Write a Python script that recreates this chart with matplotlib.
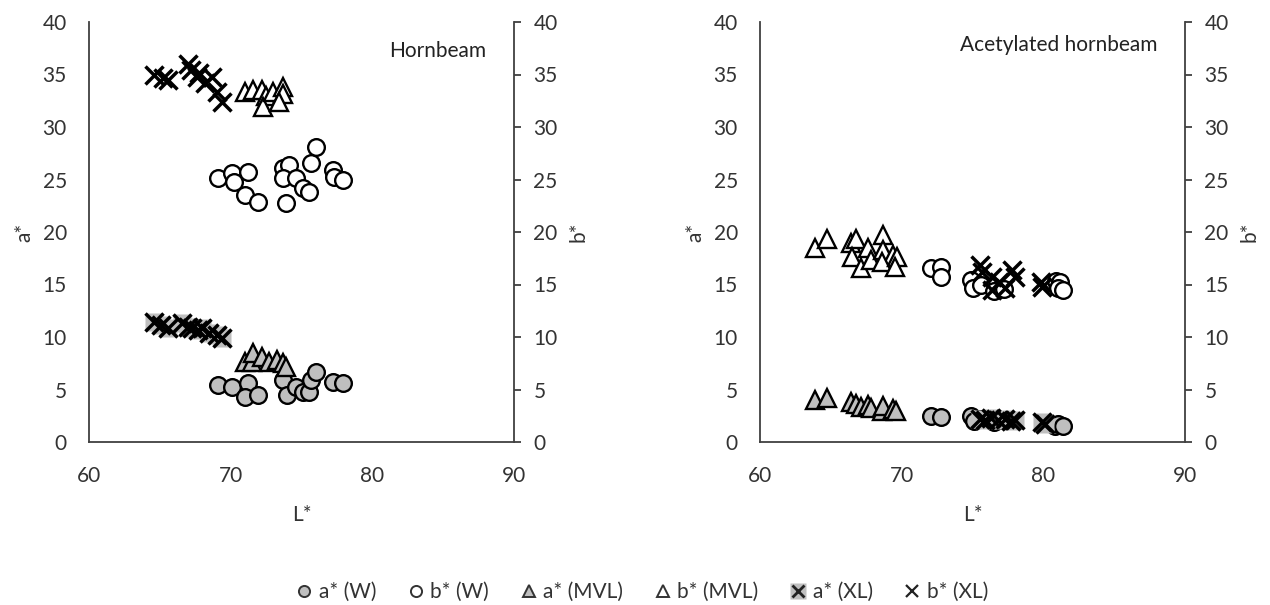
import matplotlib.pyplot as plt
from matplotlib.lines import Line2D
from matplotlib.legend_handler import HandlerTuple

plt.rcParams["font.family"] = ["Lato", "DejaVu Sans"]

# Hornbeam
hb_w_L_a = [69.1, 70.1, 71.2, 71.0, 71.9, 73.7, 74.0, 74.6, 75.1, 75.5, 75.7, 76.0, 77.2, 77.9]
hb_w_a = [5.4, 5.2, 5.6, 4.3, 4.5, 5.9, 4.5, 5.2, 4.8, 4.8, 5.9, 6.7, 5.7, 5.6]
hb_w_L_b = [69.1, 70.1, 70.2, 71.2, 71.0, 71.9, 73.7, 74.1, 73.7, 74.6, 75.1, 75.5, 73.9, 75.7, 76.0, 77.2, 77.3, 77.9]
hb_w_b = [25.1, 25.6, 24.8, 25.7, 23.5, 22.9, 26.1, 26.4, 25.1, 25.1, 24.2, 23.8, 22.8, 26.6, 28.1, 25.9, 25.2, 25.0]
hb_mvl_L_a = [71.0, 71.5, 71.6, 72.2, 72.7, 73.3, 73.7, 73.9]
hb_mvl_a = [7.6, 7.6, 8.5, 8.1, 7.6, 7.8, 7.5, 7.1]
hb_mvl_L_b = [71.0, 71.6, 72.2, 72.5, 72.3, 73.0, 73.7, 73.7, 73.4]
hb_mvl_b = [33.3, 33.5, 33.5, 33.0, 31.9, 33.3, 33.8, 33.1, 32.4]
hb_xl_L_a = [64.6, 65.1, 65.6, 66.6, 67.0, 67.3, 67.7, 68.0, 68.5, 69.0, 69.4]
hb_xl_a = [11.4, 11.1, 10.9, 11.3, 11.0, 10.9, 10.7, 10.9, 10.4, 10.2, 9.9]
hb_xl_L_b = [64.6, 65.2, 65.6, 67.0, 67.2, 67.6, 67.8, 68.2, 68.7, 69.0, 69.4]
hb_xl_b = [35.0, 34.7, 34.5, 36.0, 35.4, 34.8, 35.1, 34.2, 34.8, 33.3, 32.4]

# Acetylated hornbeam
ac_w_L_a = [72.1, 72.8, 74.9, 75.1, 75.6, 76.5, 77.2, 80.8, 81.0, 81.4]
ac_w_a = [2.5, 2.4, 2.5, 2.0, 2.2, 1.9, 2.1, 1.5, 1.7, 1.5]
ac_w_L_b = [72.1, 72.8, 72.8, 74.9, 75.0, 75.6, 76.5, 77.2, 80.9, 81.2, 81.0, 81.4]
ac_w_b = [16.6, 16.7, 15.7, 15.4, 14.7, 15.0, 14.4, 14.6, 15.3, 15.2, 14.7, 14.5]
ac_mvl_L_a = [63.9, 64.7, 66.4, 66.8, 67.1, 67.6, 67.8, 68.6, 68.7, 69.4, 69.6]
ac_mvl_a = [4.0, 4.2, 3.8, 3.6, 3.3, 3.5, 3.2, 3.0, 3.4, 3.1, 3.0]
ac_mvl_L_b = [63.9, 64.7, 66.4, 66.8, 66.5, 67.1, 67.6, 67.8, 68.7, 68.7, 69.4, 68.6, 69.7, 69.5]
ac_mvl_b = [18.5, 19.3, 19.0, 19.3, 17.6, 16.6, 18.5, 17.3, 19.7, 18.3, 17.8, 17.1, 17.6, 16.7]
ac_xl_L_a = [75.5, 75.9, 76.3, 76.8, 77.3, 77.7, 78.0, 79.9, 80.1]
ac_xl_a = [2.2, 2.1, 2.3, 2.1, 2.2, 2.0, 2.1, 1.9, 1.7]
ac_xl_L_b = [75.5, 75.7, 76.4, 76.9, 77.3, 77.8, 78.0, 76.4, 79.8, 79.9]
ac_xl_b = [16.9, 16.2, 15.7, 15.2, 14.7, 16.4, 15.7, 14.5, 15.2, 14.8]

x_ticks = [60, 70, 80, 90]
y_ticks = [0, 5, 10, 15, 20, 25, 30, 35, 40]
legend_labels = ["a* (W)", "b* (W)", "a* (MVL)", "b* (MVL)", "a* (XL)", "b* (XL)"]

GRAY = "#bfbfbf"
AXC = "#404040"
TXT = "#333333"
FS = 15
MS = 12
MEW = 1.7

panels = [
    ("Hornbeam", (hb_w_L_a, hb_w_a), (hb_w_L_b, hb_w_b), (hb_mvl_L_a, hb_mvl_a),
     (hb_mvl_L_b, hb_mvl_b), (hb_xl_L_a, hb_xl_a), (hb_xl_L_b, hb_xl_b)),
    ("Acetylated hornbeam", (ac_w_L_a, ac_w_a), (ac_w_L_b, ac_w_b), (ac_mvl_L_a, ac_mvl_a),
     (ac_mvl_L_b, ac_mvl_b), (ac_xl_L_a, ac_xl_a), (ac_xl_L_b, ac_xl_b)),
]
title_pos = [(0.935, 0.955), (0.935, 0.97)]

fig = plt.figure(figsize=(12.7, 6.05), dpi=100)
lefts = [89 / 1270, 760 / 1270]

for left, (title, wa, wb, ma, mb, xa, xb), tpos in zip(lefts, panels, title_pos):
    ax = fig.add_axes([left, 163 / 605, 425 / 1270, 420 / 605])
    ax2 = ax.twinx()

    # a* on the primary axis
    ax.plot(*wa, ls="none", marker="o", ms=MS, mfc=GRAY, mec="black", mew=MEW)
    ax.plot(*ma, ls="none", marker="^", ms=MS + 1, mfc=GRAY, mec="black", mew=MEW)
    ax.plot(*xa, ls="none", marker="s", ms=MS + 1, mfc=GRAY, mec="none")
    ax.plot(*xa, ls="none", marker="x", ms=MS + 1, mec="black", mew=2.5)

    # b* on the secondary axis
    ax2.plot(*wb, ls="none", marker="o", ms=MS, mfc="white", mec="black", mew=MEW)
    ax2.plot(*mb, ls="none", marker="^", ms=MS + 1, mfc="white", mec="black", mew=MEW)
    ax2.plot(*xb, ls="none", marker="x", ms=MS + 1, mec="black", mew=2.5)

    for a in (ax, ax2):
        a.set_xlim(60, 90)
        a.set_ylim(0, 40)
        a.set_yticks(y_ticks)
        for s in a.spines.values():
            s.set_color(AXC)
            s.set_linewidth(1.3)
        a.spines["top"].set_visible(False)

    ax.spines["right"].set_visible(False)
    ax2.spines["left"].set_visible(False)
    ax2.spines["bottom"].set_visible(False)

    ax.set_xticks(x_ticks)
    ax.tick_params(axis="x", length=0, pad=17, labelsize=FS, colors=TXT)
    ax.tick_params(axis="y", length=0, pad=16, labelsize=FS, colors=TXT)
    ax2.tick_params(axis="y", length=5, width=1.3, color=AXC, direction="out",
                    pad=9, labelsize=FS, labelcolor=TXT)

    ax.set_xlabel("L*", fontsize=FS, color=TXT, labelpad=14)
    ax.set_ylabel("a*", fontsize=FS, color=TXT, labelpad=6)
    ax2.set_ylabel("b*", fontsize=FS, color=TXT, rotation=90, labelpad=8)

    ax.text(tpos[0], tpos[1], title, transform=ax.transAxes, ha="right", va="top",
            fontsize=FS, color="#222222")

h_aw = Line2D([], [], ls="none", marker="o", ms=8, mfc=GRAY, mec="#333333", mew=1.4)
h_bw = Line2D([], [], ls="none", marker="o", ms=8, mfc="white", mec="#333333", mew=1.4)
h_am = Line2D([], [], ls="none", marker="^", ms=9, mfc=GRAY, mec="#333333", mew=1.4)
h_bm = Line2D([], [], ls="none", marker="^", ms=9, mfc="white", mec="#333333", mew=1.4)
h_ax_sq = Line2D([], [], ls="none", marker="s", ms=11, mfc=GRAY, mec="none")
h_ax_x = Line2D([], [], ls="none", marker="x", ms=9, mec="#222222", mew=2.0)
h_bx = Line2D([], [], ls="none", marker="x", ms=9, mec="#222222", mew=1.6)

fig.legend([h_aw, h_bw, h_am, h_bm, (h_ax_sq, h_ax_x), h_bx], legend_labels,
           handler_map={tuple: HandlerTuple(ndivide=1, pad=0)},
           loc="center", bbox_to_anchor=(642 / 1270, 1 - 592 / 605), ncol=6,
           frameon=False, fontsize=FS, handlelength=0.8, handletextpad=0.3,
           columnspacing=1.5, labelcolor=TXT)

fig.savefig("out.png", dpi=100)
